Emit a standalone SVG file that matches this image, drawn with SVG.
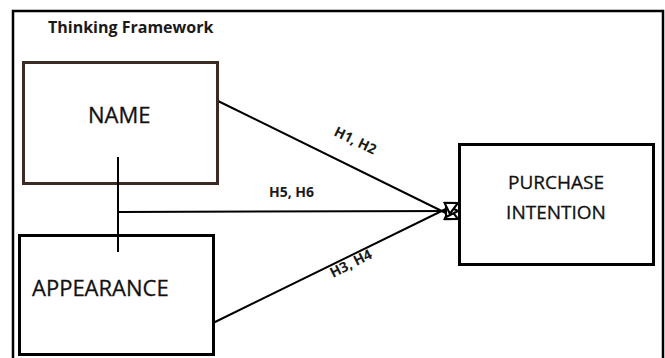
<svg xmlns="http://www.w3.org/2000/svg" width="665" height="358" viewBox="0 0 665 358">
  <style>
    .frame { fill: #ffffff; stroke: #000000; stroke-width: 2.5; }
    .box { fill: #ffffff; stroke: #000000; stroke-width: 3; }
    .box-name { fill: #ffffff; stroke: #3a2c25; stroke-width: 3; }
    .label { font-family: "Open Sans", "Liberation Sans", sans-serif; font-weight: 500; fill: #111111; stroke: #111111; stroke-width: 0.3; }
    .title { font-family: "Open Sans", "Liberation Sans", sans-serif; font-weight: bold; font-size: 16px; fill: #1a1a1a; }
    .hyp { font-family: "Open Sans", "Liberation Sans", sans-serif; font-weight: bold; font-size: 14px; fill: #1a1a1a; }
    .link { fill: none; stroke: #000000; stroke-width: 2; }
  </style>
  <defs>
    <marker id="arrow" viewBox="0 0 10 10" refX="9" refY="5" markerWidth="7.5" markerHeight="7.5" orient="auto" markerUnits="strokeWidth">
      <path d="M1,1 L9,5 L1,9 Z" fill="#ffffff" stroke="#000000" stroke-width="1.4"/>
    </marker>
  </defs>

  <rect width="665" height="358" fill="#ffffff"/>
  <rect class="frame" x="13" y="11" width="650" height="370"/>
  <text class="title" x="48" y="33">Thinking Framework</text>

  <g id="connectors">
    <line class="link" x1="218" y1="101" x2="458" y2="219" marker-end="url(#arrow)"/>
    <line class="link" x1="119" y1="212" x2="458" y2="211" marker-end="url(#arrow)"/>
    <line class="link" x1="213" y1="323" x2="458" y2="203" marker-end="url(#arrow)"/>
    <text class="hyp" transform="translate(333,135) rotate(26)">H1, H2</text>
    <text class="hyp" x="269" y="197">H5, H6</text>
    <text class="hyp" transform="translate(333,278) rotate(-27)">H3, H4</text>
  </g>

  <g id="node-name">
    <rect class="box-name" x="23.5" y="62.5" width="194" height="121"/>
    <text class="label" x="88" y="123" font-size="22">NAME</text>
  </g>

  <g id="node-appearance">
    <rect class="box" x="19.5" y="235.5" width="194" height="119"/>
    <text class="label" x="32" y="296" font-size="22">APPEARANCE</text>
  </g>

  <g id="node-purchase-intention">
    <rect class="box" x="459.5" y="144.5" width="194" height="120"/>
    <text class="label" x="556" y="189" font-size="19" text-anchor="middle">PURCHASE</text>
    <text class="label" x="556" y="219" font-size="19" text-anchor="middle">INTENTION</text>
  </g>

  <!-- vertical tie from NAME, drawn over the box borders -->
  <g id="tie">
    <line class="link" x1="118" y1="157" x2="118" y2="252"/>
  </g>
</svg>
